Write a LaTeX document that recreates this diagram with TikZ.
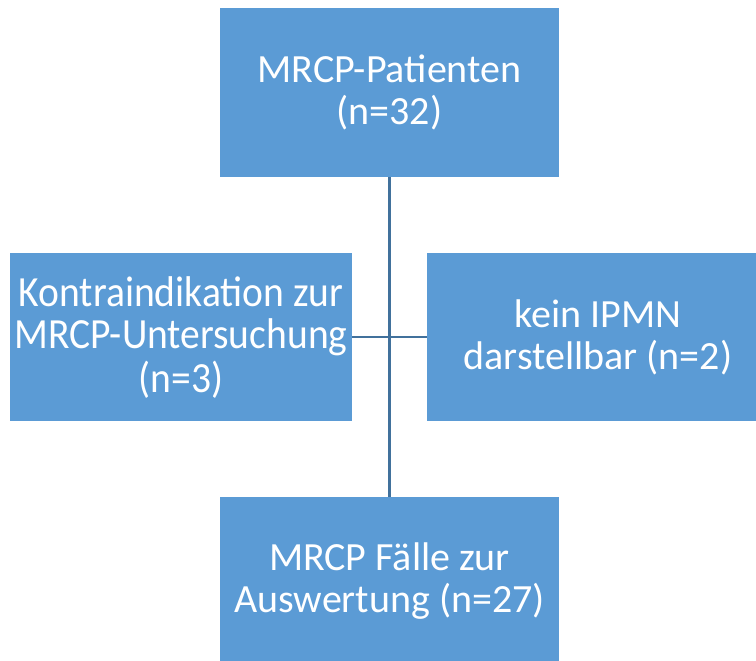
\documentclass[tikz,border=0pt]{standalone}
\usepackage{fontspec}
\usepackage{graphicx}
\setmainfont{Carlito}
\definecolor{boxfill}{HTML}{5B9BD5}
\definecolor{linkcol}{HTML}{41719C}
\begin{document}
\begin{tikzpicture}[x=1pt,y=1pt,
  flowbox/.style={fill=boxfill, draw=none, text=white, align=center,
    font=\fontsize{40}{42}\selectfont, inner sep=0pt},
  boxtext/.style={text=white, align=center, inner sep=0pt},
  link/.style={draw=linkcol, line width=2.5pt}]
  \useasboundingbox (0,0) rectangle (756,661);
  % boxes
  \node[flowbox, minimum width=339pt, minimum height=169pt] (top) at (389.5,568.5) {MRCP-Patienten\\(n=32)};
  \node[flowbox, minimum width=342pt, minimum height=168pt] (left) at (181,324) {};
  \node[boxtext] (lefttext) at ([yshift=-4pt]left.center)
    {\scalebox{0.92}[1]{\fontsize{43}{42}\selectfont\setlength{\tabcolsep}{0pt}%
      \begin{tabular}{c}Kontraindikation zur\\MRCP-Untersuchung\\(n=3)\end{tabular}}};
  \node[flowbox, minimum width=342pt, minimum height=168pt] (right) at (598,324) {kein IPMN\\darstellbar (n=2)};
  \node[flowbox, minimum width=339pt, minimum height=168pt] (bottom) at (389.5,80) {MRCP Fälle zur\\Auswertung (n=27)};
  % connectors
  \draw[link] (top.south) -- (bottom.north);
  \draw[link] (left.east) -- (right.west);
\end{tikzpicture}
\end{document}
